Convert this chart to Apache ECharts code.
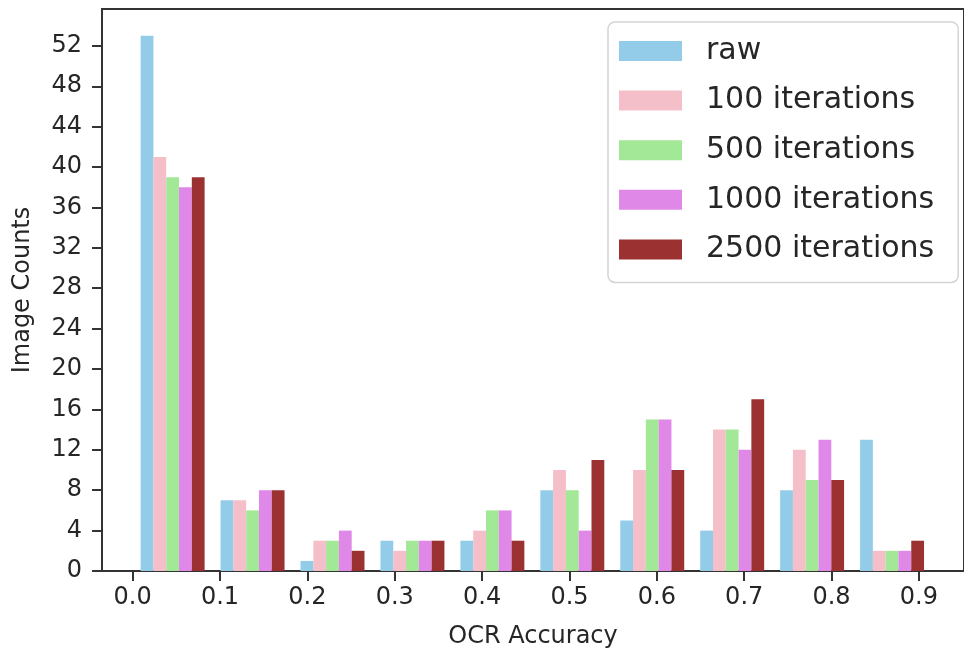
<!DOCTYPE html>
<html>
<head>
<meta charset="utf-8">
<script src="https://cdn.jsdelivr.net/npm/echarts@6/dist/echarts.min.js"></script>
<style>
html,body{margin:0;padding:0;background:#fff;}
#chart{width:964px;height:654px;}
</style>
</head>
<body>
<div id="chart"></div>
<script>
// Histogram bin edges (OCR accuracy)
const binEdges = [0.0, 0.0915, 0.1830, 0.2745, 0.3660, 0.4575, 0.5490, 0.6405, 0.7320, 0.8235, 0.9150];
const seriesNames = ['raw', '100 iterations', '500 iterations', '1000 iterations', '2500 iterations'];
const rawCounts   = [53, 7, 1, 3, 3, 8, 5, 4, 8, 13];
const it100Counts = [41, 7, 3, 2, 4, 10, 10, 14, 12, 2];
const it500Counts = [39, 6, 3, 3, 6, 8, 15, 14, 9, 2];
const it1000Counts= [38, 8, 4, 3, 6, 4, 15, 12, 13, 2];
const it2500Counts= [39, 8, 2, 3, 3, 11, 10, 17, 9, 3];
const xTickValues = [0.0, 0.1, 0.2, 0.3, 0.4, 0.5, 0.6, 0.7, 0.8, 0.9];
const yTickValues = [0, 4, 8, 12, 16, 20, 24, 28, 32, 36, 40, 44, 48, 52];
const colors = ['#93CCE8', '#F5BFC9', '#A3E896', '#E088E8', '#9C3131'];

const allCounts = [rawCounts, it100Counts, it500Counts, it1000Counts, it2500Counts];
const nSeries = allCounts.length;
const FONT = 'DejaVu Sans';

function makeRender(sIdx) {
  return function (params, api) {
    const b0 = api.value(0), b1 = api.value(1), v = api.value(2);
    const w = b1 - b0;
    const bw = 0.8 * w / nSeries;
    const x0 = b0 + 0.1 * w + sIdx * bw;
    const x1 = x0 + bw;
    const p0 = api.coord([x0, v]);
    const p1 = api.coord([x1, 0]);
    return {
      type: 'rect',
      shape: { x: p0[0], y: p0[1], width: p1[0] - p0[0], height: p1[1] - p0[1] },
      style: { fill: api.visual('color') }
    };
  };
}

const series = allCounts.map(function (counts, s) {
  return {
    type: 'custom',
    name: seriesNames[s],
    renderItem: makeRender(s),
    encode: { x: [0, 1], y: 2 },
    itemStyle: { color: colors[s] },
    data: counts.map(function (c, i) { return [binEdges[i], binEdges[i + 1], c]; })
  };
});

const chart = echarts.init(document.getElementById('chart'), null, { renderer: 'canvas' });
chart.setOption({
  animation: false,
  color: colors,
  textStyle: { fontFamily: FONT },
  grid: {
    left: 102, top: 9, width: 872, height: 567,
    show: true, borderColor: '#333', borderWidth: 2, backgroundColor: 'transparent'
  },
  legend: {
    orient: 'vertical',
    left: 608, top: 22,
    data: seriesNames,
    icon: 'rect',
    itemWidth: 63, itemHeight: 20,
    itemGap: 15.6,
    padding: [12, 24, 16, 11],
    borderColor: '#d4d4d4', borderWidth: 1.5, borderRadius: 7,
    backgroundColor: 'rgba(255,255,255,0.8)',
    textStyle: { fontFamily: FONT, fontSize: 30, color: '#262626', lineHeight: 34, padding: [0, 0, 0, 19] }
  },
  xAxis: {
    type: 'value',
    min: -0.0351, max: 0.9516,
    name: 'OCR Accuracy',
    nameLocation: 'middle',
    nameGap: 54,
    nameTextStyle: { fontFamily: FONT, fontSize: 24, color: '#262626' },
    axisLine: { show: false, onZero: false },
    axisTick: { show: true, length: 10, lineStyle: { color: '#333', width: 2 }, customValues: xTickValues },
    axisLabel: {
      customValues: xTickValues, margin: 15,
      fontFamily: FONT, fontSize: 24, color: '#262626',
      formatter: function (v) { return v.toFixed(1); }
    },
    splitLine: { show: false }
  },
  yAxis: {
    type: 'value',
    min: 0, max: 55.65,
    name: 'Image Counts',
    nameLocation: 'middle',
    nameGap: 67,
    nameTextStyle: { fontFamily: FONT, fontSize: 24, color: '#262626' },
    axisLine: { show: false, onZero: false },
    axisTick: { show: true, length: 10, lineStyle: { color: '#333', width: 2 }, customValues: yTickValues },
    axisLabel: {
      customValues: yTickValues, margin: 20,
      fontFamily: FONT, fontSize: 24, color: '#262626'
    },
    splitLine: { show: false }
  },
  series: series
});
</script>
</body>
</html>
